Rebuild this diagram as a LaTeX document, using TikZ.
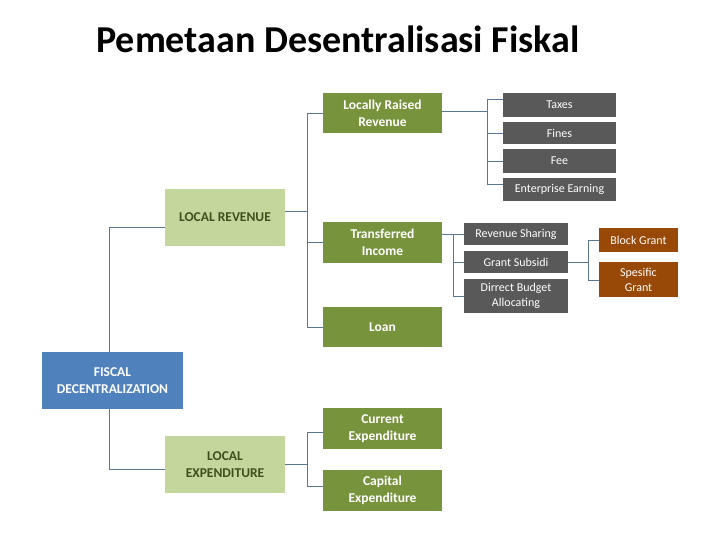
\documentclass[tikz,border=0pt]{standalone}
\usepackage{fontspec}
\setmainfont{Carlito}
\usepackage{xcolor}
\usepackage{tikz}
\usetikzlibrary{positioning,calc}
\definecolor{leafGreen}{HTML}{77933C}
\definecolor{paleGreen}{HTML}{C3D69B}
\definecolor{darkOlive}{HTML}{3F4F1E}
\definecolor{fiscalBlue}{HTML}{4F81BD}
\definecolor{slateGray}{HTML}{595959}
\definecolor{rustBrown}{HTML}{984807}
\definecolor{linkBlue}{HTML}{5A7890}

\begin{document}
\begin{tikzpicture}[
    x=1pt,y=-1pt,
    every node/.style={inner sep=2pt,align=center},
    greenBox/.style={rectangle,fill=leafGreen,text=white,
                     font=\bfseries\fontsize{13.5}{17}\selectfont,
                     minimum width=119pt,minimum height=40pt},
    paleBox/.style={rectangle,fill=paleGreen,text=darkOlive,
                    font=\bfseries\fontsize{13.5}{17}\selectfont,
                    minimum width=120pt,minimum height=57pt},
    blueBox/.style={rectangle,fill=fiscalBlue,text=white,
                    font=\bfseries\fontsize{13.5}{17}\selectfont,
                    minimum width=141pt,minimum height=57pt},
    grayBox/.style={rectangle,fill=slateGray,text=white,
                    font=\fontsize{12}{15}\selectfont,
                    minimum width=113pt,minimum height=23pt},
    brownBox/.style={rectangle,fill=rustBrown,text=white,
                     font=\fontsize{12}{15}\selectfont,
                     minimum width=79pt,minimum height=24pt},
    link/.style={draw=linkBlue,line width=0.9pt}
  ]
  \useasboundingbox (0,0) rectangle (720,540);

  \node[font=\bfseries\fontsize{38}{42}\selectfont,anchor=base] (title) at (338,53)
    {Pemetaan Desentralisasi Fiskal};

  % root and its two branches
  \node[blueBox] (FD) at (112.5,380.5) {FISCAL\\DECENTRALIZATION};
  \node[paleBox] (LR) at (225,217.5) {LOCAL REVENUE};
  \node[paleBox] (LE) at (225,464.5) {LOCAL\\EXPENDITURE};

  % revenue sources
  \node[greenBox] (LRR) at (382.5,113)   {Locally Raised\\Revenue};
  \node[greenBox] (TI)  at (382.5,242.5) {Transferred\\Income};
  \node[greenBox] (LN)  at (382.5,327)   {Loan};

  % expenditure kinds
  \node[greenBox,minimum height=41pt] (CE) at (382.5,428.5) {Current\\Expenditure};
  \node[greenBox,minimum height=41pt] (CX) at (382.5,490.5) {Capital\\Expenditure};

  % own revenue items
  \node[grayBox,minimum height=24pt] (Tx) at (559.5,105)   {Taxes};
  \node[grayBox,minimum height=22pt] (Fn) at (559.5,133)   {Fines};
  \node[grayBox,minimum height=24pt] (Fe) at (559.5,161)   {Fee};
  \node[grayBox]                     (EE) at (559.5,189.5) {Enterprise Earning};

  % transfer items
  \node[grayBox,minimum width=104pt,minimum height=22pt] (RS) at (516,234) {Revenue Sharing};
  \node[grayBox,minimum width=104pt,minimum height=22pt] (GS) at (516,262) {Grant Subsidi};
  \node[grayBox,minimum width=104pt,minimum height=34pt] (DB) at (516,296) {Dirrect Budget\\Allocating};

  \node[brownBox] (BG) at (638.5,240) {Block Grant};
  \node[brownBox,minimum height=35pt] (SG) at (638.5,279.5) {Spesific\\Grant};

  % bracket lines
  \coordinate (spineR) at (307,0);
  \coordinate (spineO) at (487,0);
  \coordinate (spineT) at (453,0);
  \coordinate (spineG) at (588,0);
  \coordinate (spineE) at (307,0);

  \draw[link] ([xshift=-3pt]FD.north) |- ([yshift=-10pt]LR.west);
  \draw[link] ([xshift=-3pt]FD.south) |- ([yshift=-5pt]LE.west);

  \draw[link] ([yshift=6pt]LR.east) -- ([yshift=6pt]LR.east-|spineR);
  \draw[link] (LRR.west) -| (spineR|-LN.west) -- (LN.west);
  \draw[link] (TI.west) -- (TI.west-|spineR);

  \draw[link] ([yshift=2pt]LRR.east) -- ([yshift=2pt]LRR.east-|spineO);
  \draw[link] ([yshift=6pt]Tx.west) -| ([yshift=5pt]spineO|-EE.west) -- ([yshift=5pt]EE.west);
  \draw[link] (Fn.west) -- (Fn.west-|spineO);
  \draw[link] (Fe.west) -- (Fe.west-|spineO);

  \draw[link] ([yshift=8pt]TI.east) -- ([yshift=8pt]TI.east-|spineT);
  \draw[link] (RS.west) -| (spineT|-DB.west) -- (DB.west);
  \draw[link] (GS.west) -- (GS.west-|spineT);

  \draw[link] (GS.east) -- (GS.east-|spineG);
  \draw[link] (BG.west) -| ([yshift=-1pt]spineG|-SG.west) -- ([yshift=-1pt]SG.west);

  \draw[link] (LE.east) -- (LE.east-|spineE);
  \draw[link] ([yshift=-4pt]CE.west) -| ([yshift=4pt]spineE|-CX.west) -- ([yshift=4pt]CX.west);
\end{tikzpicture}
\end{document}
